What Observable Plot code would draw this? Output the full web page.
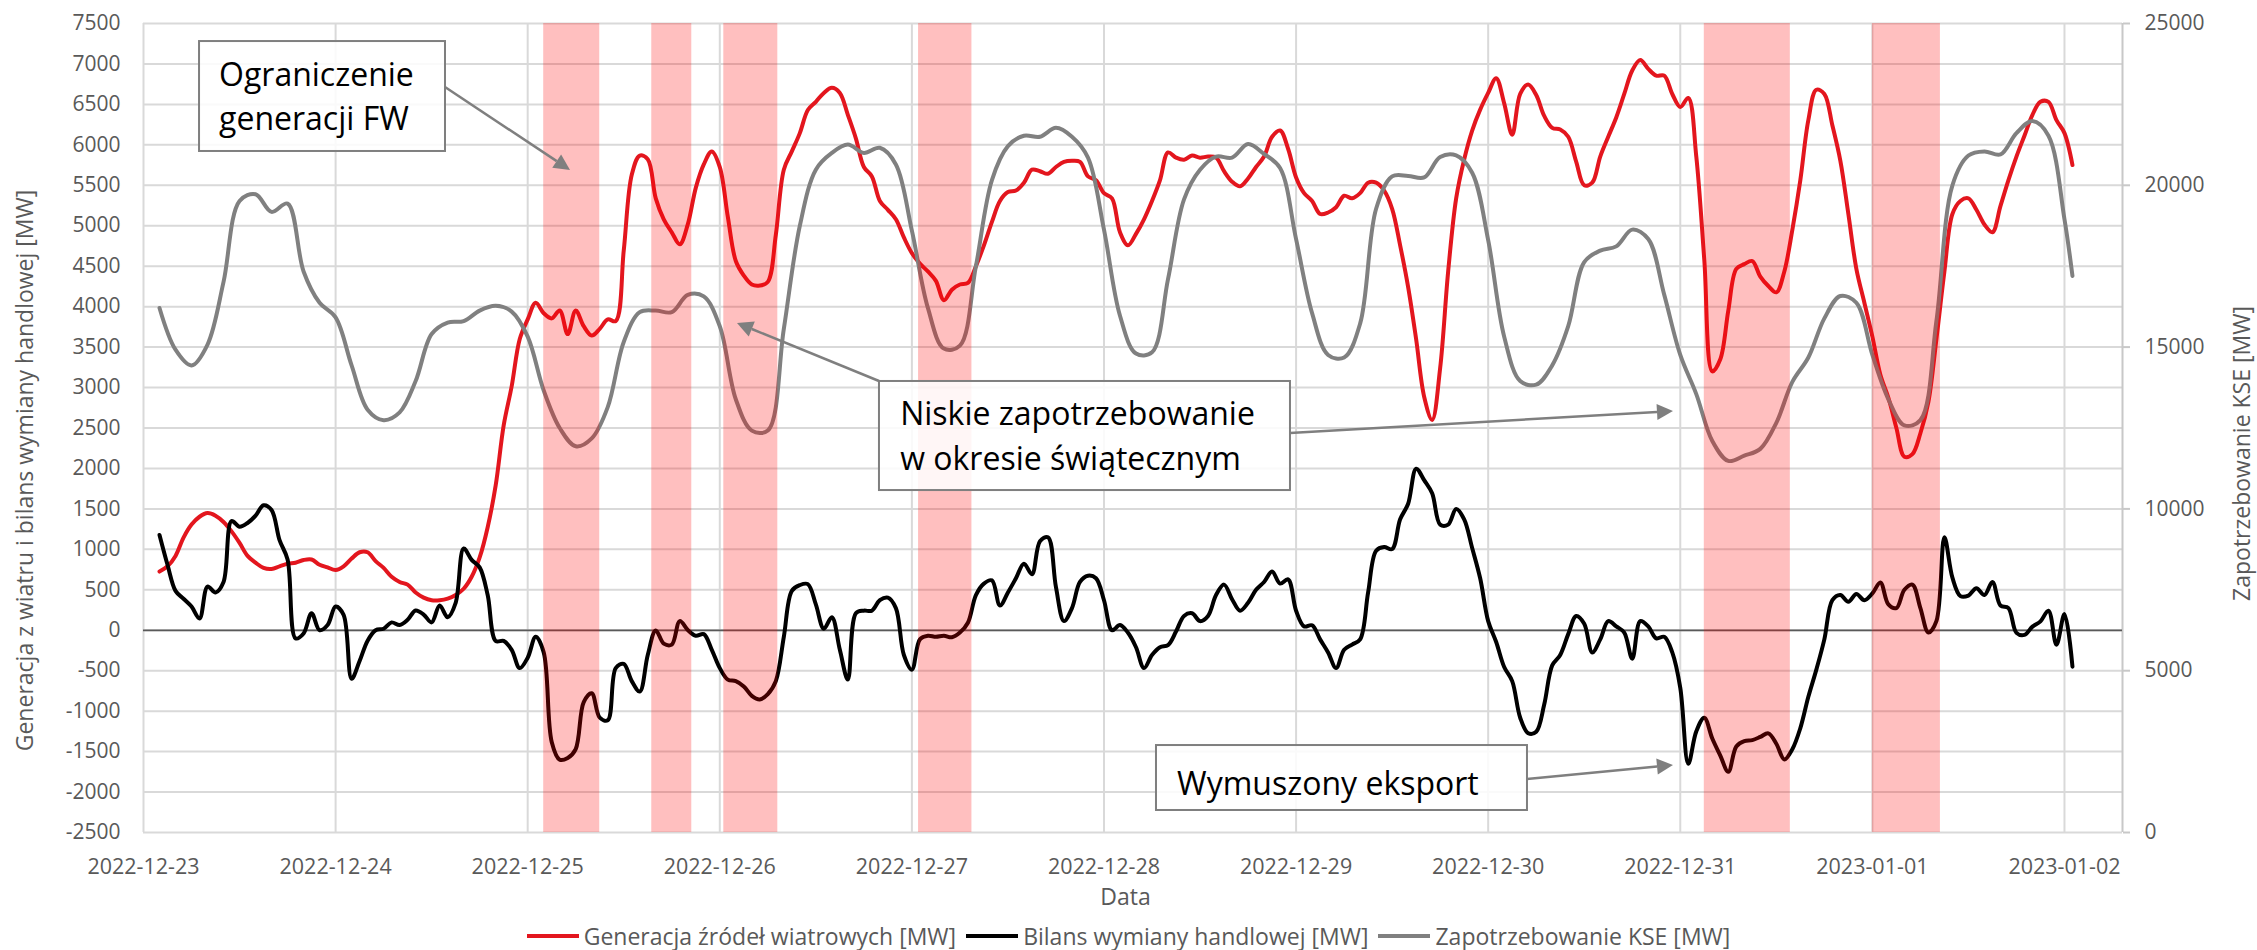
<!DOCTYPE html>
<html>
<head>
<meta charset="utf-8">
<script src="https://cdn.jsdelivr.net/npm/d3@7"></script>
<script src="https://cdn.jsdelivr.net/npm/@observablehq/plot@0.6"></script>
<style>
  html, body { margin: 0; padding: 0; background: #fff; }
  #chart { position: relative; width: 2257px; height: 950px; font-family: "Open Sans", sans-serif; }
  #chart svg { display: block; }
  #legend { display: flex; justify-content: center; align-items: center; gap: 10px;
            margin-top: 9px; font-size: 23px; line-height: 30px; color: #595959; white-space: nowrap; }
  #legend .item { display: flex; align-items: center; }
  #legend .sw { display: inline-block; width: 52px; height: 4px; margin-right: 5px; }
</style>
</head>
<body>
<div id="chart"></div>
<script>
// ---------------- DATA ----------------
const startDay = "2022-12-23T00:00:00Z";        // origin of the hour index
const dayTicks = ["2022-12-23","2022-12-24","2022-12-25","2022-12-26","2022-12-27","2022-12-28",
                  "2022-12-29","2022-12-30","2022-12-31","2023-01-01","2023-01-02"];
const axisEndHour = 247.25;                      // x-axis ends after 2023-01-02
const leftTicks = [-2500,-2000,-1500,-1000,-500,0,500,1000,1500,2000,2500,3000,3500,4000,4500,5000,5500,6000,6500,7000,7500];
const rightTicks = [0,5000,10000,15000,20000,25000];
const leftDomain = [-2500, 7500];
const rightDomain = [0, 25000];

const seriesNames = ["Generacja źródeł wiatrowych [MW]", "Bilans wymiany handlowej [MW]", "Zapotrzebowanie KSE [MW]"];
const seriesColors = ["#e3161e", "#000000", "#808080"];

// hourly values, first at hour 2 after 2022-12-23 00:00
const firstHour = 2;
const windMW = [
  725,790,919,1145,1306,1403,1448,1416,1338,1222,
  1080,919,835,771,758,790,822,835,868,874,
  810,777,745,790,886,964,964,855,771,661,
  597,564,467,403,371,371,390,435,513,661,
  900,1274,1790,2532,3016,3597,3842,4048,3919,3855,
  3952,3661,3952,3758,3642,3726,3842,3822,4693,5629,
  5868,5823,5339,5080,4919,4771,5016,5468,5758,5919,
  5726,5113,4564,4384,4274,4261,4306,4887,5693,5919,
  6145,6430,6532,6642,6706,6642,6371,6081,5726,5610,
  5306,5197,5080,4855,4661,4532,4435,4319,4080,4210,
  4274,4293,4500,4758,5048,5306,5416,5435,5532,5693,
  5674,5642,5726,5790,5803,5790,5610,5564,5403,5339,
  4919,4758,4900,5080,5306,5564,5906,5842,5816,5868,
  5842,5855,5842,5674,5545,5487,5584,5726,5855,6100,
  6177,5952,5597,5403,5306,5145,5164,5229,5371,5339,
  5403,5532,5532,5435,5210,4758,4242,3597,2887,2600,
  3242,4435,5339,5820,6177,6435,6642,6823,6513,6126,
  6629,6745,6616,6358,6210,6190,6100,5790,5500,5532,
  5855,6100,6339,6629,6919,7048,6939,6855,6855,6629,
  6468,6580,5855,4577,3200,3350,3952,4468,4526,4564,
  4371,4255,4177,4435,4950,5564,6306,6681,6629,6242,
  5803,5145,4468,4048,3629,3158,2874,2500,2145,2177,
  2435,2822,3597,4435,5145,5306,5339,5197,5016,4919,
  5242,5564,5855,6113,6371,6532,6532,6306,6145,5750
];
const balanceMW = [
  1177,809,487,390,293,145,540,467,597,1350,
  1280,1326,1416,1545,1487,1113,874,-100,-40,210,
  0,64,293,190,-600,-380,-129,0,19,97,
  64,129,245,194,97,306,161,339,1010,870,
  777,435,-132,-132,-242,-468,-339,-81,-274,-1380,
  -1600,-1578,-1468,-887,-778,-1081,-1113,-468,-416,-629,
  -758,-306,-3,-165,-177,113,3,-68,-48,-242,
  -468,-610,-629,-694,-810,-855,-790,-629,-81,487,
  558,570,319,19,161,-242,-610,210,242,242,
  371,403,274,-306,-487,-113,-68,-81,-68,-87,
  -29,93,435,577,616,306,467,642,822,693,
  1100,1150,532,113,274,597,674,642,371,0,
  64,-32,-210,-468,-306,-210,-184,-16,177,210,
  113,177,435,564,384,242,339,500,597,726,
  577,629,242,48,61,-113,-274,-468,-242,-177,
  -113,467,984,1029,1003,1371,1564,1997,1855,1693,
  1306,1306,1500,1370,1016,642,113,-145,-455,-629,
  -1081,-1274,-1255,-919,-435,-306,-48,177,81,-274,
  -113,113,48,-29,-352,113,48,-100,-81,-274,
  -713,-1650,-1250,-1081,-1339,-1550,-1750,-1436,-1371,-1358,
  -1319,-1274,-1403,-1597,-1470,-1210,-823,-487,-113,371,
  435,351,448,371,455,590,319,274,500,564,
  274,-29,113,1150,650,422,429,519,435,597,
  306,274,-32,-58,45,110,242,-180,200,-450
];
// demand (right axis), every 2 hours from hour 2, plus the last reading at hour 241
const demandHours = [...d3.range(2, 241, 2), 241];
const demandMW = [
  16210,14920,14435,15080,17015,19515,19725,19178,19435,17338,
  16370,15918,14435,13065,12743,12983,13950,15403,15758,15805,
  16128,16275,16098,15323,13660,12500,11935,12178,13145,15160,
  16080,16128,16080,16613,16565,15645,13388,12420,12420,15565,
  18750,20483,21000,21258,21000,21160,20645,18598,16210,14953,
  15048,17500,20160,21210,21533,21500,21775,21500,20855,18628,
  15968,14800,14838,17098,19565,20483,20888,20855,21275,20968,
  20533,18338,16048,14758,14678,15725,19275,20275,20290,20243,
  20875,20925,20388,18308,15323,13953,13840,14435,15645,17628,
  17983,18113,18630,18338,16613,14758,13548,12098,11483,11645,
  11855,12660,13925,14678,15888,16580,16370,14758,13388,12580,
  12743,15805,20000,20920,21048,20953,21613,21985,21533,18950,
  17200
];
// curtailment periods (shaded)
const bandStart = ["2022-12-25T02:00Z","2022-12-25T15:30Z","2022-12-26T00:30Z","2022-12-27T00:50Z","2022-12-31T03:00Z","2023-01-01T00:00Z"];
const bandEnd   = ["2022-12-25T09:00Z","2022-12-25T20:30Z","2022-12-26T07:15Z","2022-12-27T07:30Z","2022-12-31T13:45Z","2023-01-01T08:30Z"];

// annotations: box [h1, h2, v1, v2] in hours / left-axis units, text lines with baselines
const notes = [
  {lines: ["Ograniczenie", "generacji FW"], box: [7.0, 37.73, 7277, 5918], tx: 9.5, base: [6721, 6177]},
  {lines: ["Niskie zapotrzebowanie", "w okresie świątecznym"], box: [91.95, 143.3, 3075, 1727], tx: 94.6, base: [2531, 1975]},
  {lines: ["Wymuszony eksport"], box: [126.56, 172.91, -1425, -2228], tx: 129.2, base: [-2043]}
];
const arrows = [
  {from: [37.73, 6709], to: [53.35, 5683]},
  {from: [91.95, 3075], to: [74.21, 3792]},
  {from: [143.3, 2432], to: [191.15, 2704]},
  {from: [172.91, -1845], to: [191.15, -1672]}
];

// ---------------- BUILD ----------------
const t0 = new Date(startDay).getTime();
const toDate = h => new Date(t0 + h * 3600e3);
const rightToLeft = v => leftDomain[0] + (v - rightDomain[0]) * (leftDomain[1] - leftDomain[0]) / (rightDomain[1] - rightDomain[0]);
const leftToRight = v => rightDomain[0] + (v - leftDomain[0]) * (rightDomain[1] - rightDomain[0]) / (leftDomain[1] - leftDomain[0]);

const windRows = windMW.map((v, i) => ({t: toDate(firstHour + i), v}));
const balanceRows = balanceMW.map((v, i) => ({t: toDate(firstHour + i), v}));
const demandRows = demandMW.map((v, i) => ({t: toDate(demandHours[i]), v}));
const bands = bandStart.map((s, i) => ({start: new Date(s), end: new Date(bandEnd[i])}));
const dayDates = dayTicks.map(d => new Date(d + "T00:00:00Z"));
const xEnd = toDate(axisEndHour);

const plot = Plot.plot({
  width: 2257,
  height: 912,
  marginLeft: 143,
  marginRight: 135,
  marginTop: 23,
  marginBottom: 80,
  style: {fontFamily: "'Open Sans', sans-serif", fontSize: "21px", color: "#595959", background: "#fff", overflow: "visible"},
  x: {type: "utc", domain: [new Date(t0), xEnd]},
  y: {domain: leftDomain},
  marks: [
    Plot.gridY(leftTicks, {stroke: "#d9d9d9", strokeOpacity: 1, strokeWidth: 2}),
    Plot.gridX(dayDates, {stroke: "#d9d9d9", strokeOpacity: 1, strokeWidth: 2}),
    Plot.ruleX([xEnd], {stroke: "#c8c8c8", strokeWidth: 2}),
    Plot.ruleY([0], {stroke: "#595959", strokeWidth: 1.75}),
    Plot.line(windRows, {x: "t", y: "v", stroke: seriesColors[0], strokeWidth: 4, curve: "catmull-rom"}),
    Plot.line(balanceRows, {x: "t", y: "v", stroke: seriesColors[1], strokeWidth: 4, curve: "catmull-rom"}),
    Plot.line(demandRows, {x: "t", y: d => rightToLeft(d.v), stroke: seriesColors[2], strokeWidth: 4, curve: "catmull-rom"}),
    Plot.rect(bands, {x1: "start", x2: "end", fill: "#ff0000", fillOpacity: 0.25}),
    Plot.axisX(dayDates, {tickSize: 0, tickPadding: 26, tickFormat: d3.utcFormat("%Y-%m-%d"), fontSize: 21.5, label: null}),
    Plot.axisY(leftTicks, {anchor: "left", tickSize: 0, tickPadding: 23, tickFormat: d => String(d), label: null}),
    Plot.axisY(rightTicks.map(rightToLeft), {anchor: "right", tickSize: 7, tickPadding: 15, stroke: "#c8c8c8", strokeWidth: 2,
      tickFormat: v => String(Math.round(leftToRight(v))), label: null})
  ]
});

document.getElementById("chart").appendChild(plot);

// ---------------- ANNOTATIONS (through the plot's scales) ----------------
const sx = plot.scale("x"), sy = plot.scale("y");
const X = h => sx.apply(toDate(h));
const Y = v => sy.apply(v);
const svg = d3.select(plot);
const g = svg.append("g").attr("font-family", "'Open Sans', sans-serif");

// axis titles
const yMid = (Y(leftDomain[0]) + Y(leftDomain[1])) / 2;
g.append("text").attr("transform", `translate(33,${yMid + 43}) rotate(-90)`)
  .attr("text-anchor", "middle").attr("font-size", 23).attr("fill", "#595959")
  .text("Generacja z wiatru i bilans wymiany handlowej [MW]");
g.append("text").attr("transform", `translate(2250,${yMid + 26}) rotate(-90)`)
  .attr("text-anchor", "middle").attr("font-size", 23).attr("fill", "#595959")
  .text(seriesNames[2]);
g.append("text").attr("x", (X(0) + sx.apply(xEnd)) / 2 - 7).attr("y", 905)
  .attr("text-anchor", "middle").attr("font-size", 23).attr("fill", "#595959").text("Data");

// arrows
for (const a of arrows) {
  const x1 = X(a.from[0]), y1 = Y(a.from[1]), x2 = X(a.to[0]), y2 = Y(a.to[1]);
  const ang = Math.atan2(y2 - y1, x2 - x1), L = 16, W = 8;
  const bx = x2 - L * Math.cos(ang), by = y2 - L * Math.sin(ang);
  g.append("line").attr("x1", x1).attr("y1", y1).attr("x2", bx).attr("y2", by)
    .attr("stroke", "#7f7f7f").attr("stroke-width", 2.5);
  const px = -Math.sin(ang) * W, py = Math.cos(ang) * W;
  g.append("path").attr("d", `M${x2},${y2}L${bx + px},${by + py}L${bx - px},${by - py}Z`).attr("fill", "#7f7f7f");
}
// boxes
for (const n of notes) {
  const [h1, h2, v1, v2] = n.box;
  g.append("rect").attr("x", X(h1)).attr("y", Y(v1)).attr("width", X(h2) - X(h1)).attr("height", Y(v2) - Y(v1))
    .attr("fill", "#fff").attr("fill-opacity", 0.85).attr("stroke", "#7f7f7f").attr("stroke-width", 2);
  n.lines.forEach((s, i) => {
    g.append("text").attr("x", X(n.tx)).attr("y", Y(n.base[i])).attr("text-anchor", "start")
      .attr("font-size", 32).attr("fill", "#000").text(s);
  });
}

// ---------------- LEGEND ----------------
const legend = d3.select("#chart").append("div").attr("id", "legend");
seriesNames.forEach((name, i) => {
  const item = legend.append("span").attr("class", "item");
  item.append("span").attr("class", "sw").style("background", seriesColors[i]);
  item.append("span").text(name);
});
</script>
</body>
</html>
